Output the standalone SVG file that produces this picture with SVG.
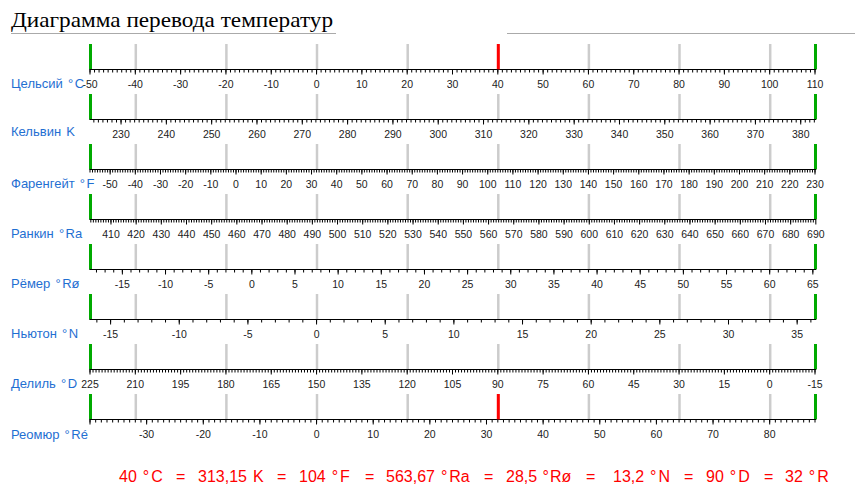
<svg xmlns="http://www.w3.org/2000/svg" xmlns:xlink="http://www.w3.org/1999/xlink" width="855" height="498" viewBox="0 0 855 498">
<style>
.ax{stroke:#000;stroke-width:1;fill:none}
.mn{stroke:#000;stroke-width:3;fill:none}
.mj{stroke:#000;stroke-width:5;fill:none}
.gy{stroke:#cccccc;stroke-width:2.5}
.gn{stroke:#00aa00;stroke-width:3}
.rd{stroke:#ff0000;stroke-width:3}
.tl{font-family:"Liberation Sans",Arial,sans-serif;font-size:10.5px;fill:#222;text-anchor:middle}
.rl{font-family:"Liberation Sans",Arial,sans-serif;font-size:13px;fill:#1f6fd2}
.lg{font-family:"Liberation Sans",Arial,sans-serif;font-size:16px;fill:#ff0000}
.tt{font-family:"Liberation Serif","Times New Roman",serif;font-size:22px;fill:#000}
.ul{stroke:#aaaaaa;stroke-width:1}
</style>
<defs>
<g id="mk">
<line class="gy" x1="135.8" y1="44" x2="135.8" y2="69.5"/>
<line class="gy" x1="226.4" y1="44" x2="226.4" y2="69.5"/>
<line class="gy" x1="317" y1="44" x2="317" y2="69.5"/>
<line class="gy" x1="407.7" y1="44" x2="407.7" y2="69.5"/>
<line class="gy" x1="498.3" y1="44" x2="498.3" y2="69.5"/>
<line class="gy" x1="588.9" y1="44" x2="588.9" y2="69.5"/>
<line class="gy" x1="679.5" y1="44" x2="679.5" y2="69.5"/>
<line class="gy" x1="770.2" y1="44" x2="770.2" y2="69.5"/>
<line class="gn" x1="90.5" y1="44" x2="90.5" y2="69.5"/>
<line class="gn" x1="815.5" y1="44" x2="815.5" y2="69.5"/>
<line class="ax" x1="89.5" y1="69.5" x2="816" y2="69.5"/>
</g>
</defs>

<g id="title">
<text class="tt" x="11" y="26.5" textLength="322" lengthAdjust="spacingAndGlyphs">Диаграмма перевода температур</text>
<line class="ul" x1="11" y1="33.5" x2="336" y2="33.5"/>
<line class="ul" x1="507" y1="33.5" x2="855" y2="33.5"/>
</g>

<g id="celsius">
<use xlink:href="#mk" href="#mk"/>
<line class="rd" x1="498.3" y1="44" x2="498.3" y2="69.5"/>
<line class="mn" x1="89.5" y1="71" x2="815.6" y2="71" stroke-dasharray="1 3.53125"/>
<line class="mj" x1="89.5" y1="72" x2="815.6" y2="72" stroke-dasharray="1 44.3125"/>
<g class="tl">
<text x="90" y="87.5">-50</text><text x="135.31" y="87.5">-40</text><text x="180.63" y="87.5">-30</text><text x="225.94" y="87.5">-20</text><text x="271.25" y="87.5">-10</text><text x="316.56" y="87.5">0</text><text x="361.88" y="87.5">10</text><text x="407.19" y="87.5">20</text><text x="452.5" y="87.5">30</text><text x="497.81" y="87.5">40</text><text x="543.13" y="87.5">50</text><text x="588.44" y="87.5">60</text><text x="633.75" y="87.5">70</text><text x="679.06" y="87.5">80</text><text x="724.38" y="87.5">90</text><text x="769.69" y="87.5">100</text><text x="815" y="87.5">110</text>
</g>
<text class="rl" x="11" y="87.5">Цельсий <tspan dx="1.5">°</tspan><tspan dx="1.5">C</tspan></text>
</g>

<g id="kelvin">
<use xlink:href="#mk" href="#mk" y="50"/>
<line class="mn" x1="93.35" y1="121" x2="815.5" y2="121" stroke-dasharray="1 3.53125"/>
<line class="mj" x1="120.54" y1="122" x2="801.3" y2="122" stroke-dasharray="1 44.3125"/>
<g class="tl">
<text x="121.04" y="137.5">230</text><text x="166.35" y="137.5">240</text><text x="211.66" y="137.5">250</text><text x="256.98" y="137.5">260</text><text x="302.29" y="137.5">270</text><text x="347.6" y="137.5">280</text><text x="392.91" y="137.5">290</text><text x="438.23" y="137.5">300</text><text x="483.54" y="137.5">310</text><text x="528.85" y="137.5">320</text><text x="574.16" y="137.5">330</text><text x="619.48" y="137.5">340</text><text x="664.79" y="137.5">350</text><text x="710.1" y="137.5">360</text><text x="755.41" y="137.5">370</text><text x="800.73" y="137.5">380</text>
</g>
<text class="rl" x="11" y="136">Кельвин <tspan dx="1.5">K</tspan></text>
</g>

<g id="fahrenheit">
<use xlink:href="#mk" href="#mk" y="100"/>
<line class="mn" x1="89.5" y1="171" x2="815.6" y2="171" stroke-dasharray="1 1.517361"/>
<line class="mj" x1="109.64" y1="172" x2="815.6" y2="172" stroke-dasharray="1 24.17361"/>
<g class="tl">
<text x="110.14" y="187.5">-50</text><text x="135.31" y="187.5">-40</text><text x="160.49" y="187.5">-30</text><text x="185.66" y="187.5">-20</text><text x="210.83" y="187.5">-10</text><text x="236.01" y="187.5">0</text><text x="261.18" y="187.5">10</text><text x="286.35" y="187.5">20</text><text x="311.53" y="187.5">30</text><text x="336.7" y="187.5">40</text><text x="361.88" y="187.5">50</text><text x="387.05" y="187.5">60</text><text x="412.22" y="187.5">70</text><text x="437.4" y="187.5">80</text><text x="462.57" y="187.5">90</text><text x="487.74" y="187.5">100</text><text x="512.92" y="187.5">110</text><text x="538.09" y="187.5">120</text><text x="563.26" y="187.5">130</text><text x="588.44" y="187.5">140</text><text x="613.61" y="187.5">150</text><text x="638.78" y="187.5">160</text><text x="663.96" y="187.5">170</text><text x="689.13" y="187.5">180</text><text x="714.31" y="187.5">190</text><text x="739.48" y="187.5">200</text><text x="764.65" y="187.5">210</text><text x="789.83" y="187.5">220</text><text x="815" y="187.5">230</text>
</g>
<text class="rl" x="11" y="187.5">Фаренгейт <tspan dx="1.5">°</tspan><tspan dx="1.5">F</tspan></text>
</g>

<g id="rankine">
<use xlink:href="#mk" href="#mk" y="150"/>
<line class="mn" x1="90.33" y1="221" x2="815.5" y2="221" stroke-dasharray="1 1.517361"/>
<line class="mj" x1="110.47" y1="222" x2="816.4" y2="222" stroke-dasharray="1 24.17361"/>
<g class="tl">
<text x="110.97" y="237.5">410</text><text x="136.14" y="237.5">420</text><text x="161.32" y="237.5">430</text><text x="186.49" y="237.5">440</text><text x="211.66" y="237.5">450</text><text x="236.84" y="237.5">460</text><text x="262.01" y="237.5">470</text><text x="287.18" y="237.5">480</text><text x="312.36" y="237.5">490</text><text x="337.53" y="237.5">500</text><text x="362.71" y="237.5">510</text><text x="387.88" y="237.5">520</text><text x="413.05" y="237.5">530</text><text x="438.23" y="237.5">540</text><text x="463.4" y="237.5">550</text><text x="488.57" y="237.5">560</text><text x="513.75" y="237.5">570</text><text x="538.92" y="237.5">580</text><text x="564.09" y="237.5">590</text><text x="589.27" y="237.5">600</text><text x="614.44" y="237.5">610</text><text x="639.61" y="237.5">620</text><text x="664.79" y="237.5">630</text><text x="689.96" y="237.5">640</text><text x="715.13" y="237.5">650</text><text x="740.31" y="237.5">660</text><text x="765.48" y="237.5">670</text><text x="790.66" y="237.5">680</text><text x="815.83" y="237.5">690</text>
</g>
<text class="rl" x="11" y="237.5">Ранкин <tspan dx="1.5">°</tspan><tspan dx="1.5">Ra</tspan></text>
</g>

<g id="romer">
<use xlink:href="#mk" href="#mk" y="200"/>
<line class="mn" x1="95.97" y1="271" x2="815.5" y2="271" stroke-dasharray="1 7.630952"/>
<line class="mj" x1="121.87" y1="272" x2="813.4" y2="272" stroke-dasharray="1 42.1548"/>
<g class="tl">
<text x="122.37" y="287.5">-15</text><text x="165.52" y="287.5">-10</text><text x="208.68" y="287.5">-5</text><text x="251.83" y="287.5">0</text><text x="294.99" y="287.5">5</text><text x="338.14" y="287.5">10</text><text x="381.3" y="287.5">15</text><text x="424.45" y="287.5">20</text><text x="467.61" y="287.5">25</text><text x="510.76" y="287.5">30</text><text x="553.92" y="287.5">35</text><text x="597.07" y="287.5">40</text><text x="640.23" y="287.5">45</text><text x="683.38" y="287.5">50</text><text x="726.54" y="287.5">55</text><text x="769.69" y="287.5">60</text><text x="812.85" y="287.5">65</text>
</g>
<text class="rl" x="11" y="287.5">Рёмер <tspan dx="1.5">°</tspan><tspan dx="1.5">Rø</tspan></text>
</g>

<g id="newton">
<use xlink:href="#mk" href="#mk" y="250"/>
<line class="mn" x1="96.37" y1="321" x2="815.5" y2="321" stroke-dasharray="1 12.73106"/>
<line class="mj" x1="110.1" y1="322" x2="797.7" y2="322" stroke-dasharray="1 67.6553"/>
<g class="tl">
<text x="110.6" y="337.5">-15</text><text x="179.25" y="337.5">-10</text><text x="247.91" y="337.5">-5</text><text x="316.56" y="337.5">0</text><text x="385.22" y="337.5">5</text><text x="453.88" y="337.5">10</text><text x="522.53" y="337.5">15</text><text x="591.19" y="337.5">20</text><text x="659.84" y="337.5">25</text><text x="728.5" y="337.5">30</text><text x="797.15" y="337.5">35</text>
</g>
<text class="rl" x="11" y="337.5">Ньютон <tspan dx="1.5">°</tspan><tspan dx="1.5">N</tspan></text>
</g>

<g id="delisle">
<use xlink:href="#mk" href="#mk" y="300"/>
<line class="mn" x1="89.5" y1="371" x2="815.6" y2="371" stroke-dasharray="1 2.020833"/>
<line class="mj" x1="89.5" y1="372" x2="815.6" y2="372" stroke-dasharray="1 44.3125"/>
<g class="tl">
<text x="90" y="387.5">225</text><text x="135.31" y="387.5">210</text><text x="180.63" y="387.5">195</text><text x="225.94" y="387.5">180</text><text x="271.25" y="387.5">165</text><text x="316.56" y="387.5">150</text><text x="361.88" y="387.5">135</text><text x="407.19" y="387.5">120</text><text x="452.5" y="387.5">105</text><text x="497.81" y="387.5">90</text><text x="543.13" y="387.5">75</text><text x="588.44" y="387.5">60</text><text x="633.75" y="387.5">45</text><text x="679.06" y="387.5">30</text><text x="724.38" y="387.5">15</text><text x="769.69" y="387.5">0</text><text x="815" y="387.5">-15</text>
</g>
<text class="rl" x="11" y="387.5">Делиль <tspan dx="1.5">°</tspan><tspan dx="1.5">D</tspan></text>
</g>

<g id="reaumur">
<use xlink:href="#mk" href="#mk" y="350"/>
<line class="rd" x1="498.3" y1="394" x2="498.3" y2="419.5"/>
<line class="mn" x1="89.5" y1="421" x2="815.6" y2="421" stroke-dasharray="1 4.664063"/>
<line class="mj" x1="89.5" y1="422" x2="815.6" y2="422" stroke-dasharray="1 55.6406"/>
<g class="tl">
<text x="146.64" y="437.5">-30</text><text x="203.28" y="437.5">-20</text><text x="259.92" y="437.5">-10</text><text x="316.56" y="437.5">0</text><text x="373.2" y="437.5">10</text><text x="429.84" y="437.5">20</text><text x="486.48" y="437.5">30</text><text x="543.13" y="437.5">40</text><text x="599.77" y="437.5">50</text><text x="656.41" y="437.5">60</text><text x="713.05" y="437.5">70</text><text x="769.69" y="437.5">80</text>
</g>
<text class="rl" x="11" y="439">Реомюр <tspan dx="1.5">°</tspan><tspan dx="1.5">Ré</tspan></text>
</g>

<g id="result">
<text class="lg" y="481.5"><tspan x="119">40 </tspan><tspan dx="1.5">°</tspan><tspan dx="2">C</tspan><tspan x="176">=</tspan><tspan x="198">313,15 </tspan><tspan dx="1.5">K</tspan><tspan x="277">=</tspan><tspan x="299">104 </tspan><tspan dx="1.5">°</tspan><tspan dx="2">F</tspan><tspan x="365">=</tspan><tspan x="386">563,67 </tspan><tspan dx="1.5">°</tspan><tspan dx="2">Ra</tspan><tspan x="484">=</tspan><tspan x="506">28,5 </tspan><tspan dx="1">°</tspan><tspan dx="1">Rø</tspan><tspan x="586">=</tspan><tspan x="613">13,2 </tspan><tspan dx="1.5">°</tspan><tspan dx="2">N</tspan><tspan x="684">=</tspan><tspan x="706">90 </tspan><tspan dx="1.5">°</tspan><tspan dx="2">D</tspan><tspan x="764">=</tspan><tspan x="785">32 </tspan><tspan dx="1.5">°</tspan><tspan dx="2">R</tspan></text>
</g>
</svg>
